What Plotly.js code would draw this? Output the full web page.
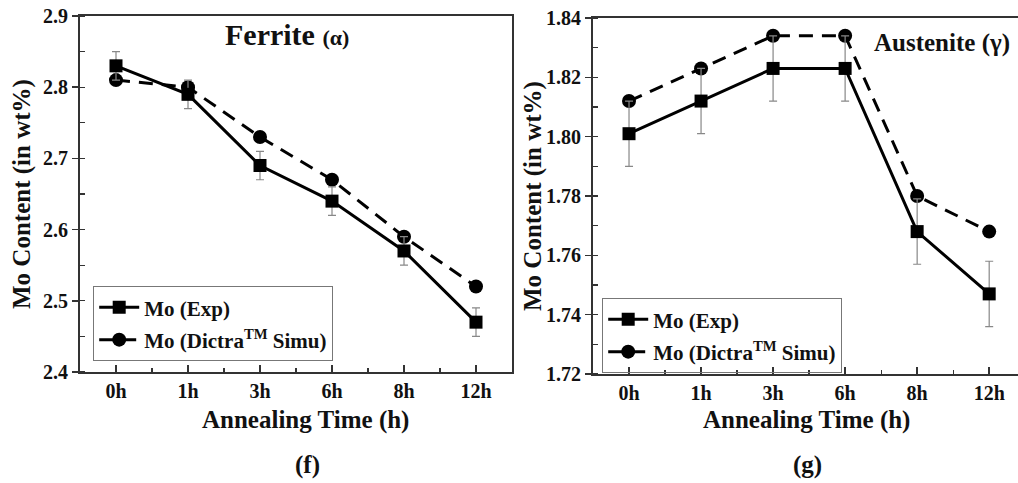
<!DOCTYPE html>
<html>
<head>
<meta charset="utf-8">
<script src="https://cdn.plot.ly/plotly-3.0.1.min.js"></script>
<style>html,body{margin:0;padding:0;background:#fff;}#chart{width:1018px;height:483px;}</style>
</head>
<body>
<div id="chart"></div>
<script>
// ---- data ----
const categories = ['0h', '1h', '3h', '6h', '8h', '12h'];
const ferriteExp = [2.83, 2.79, 2.69, 2.64, 2.57, 2.47];
const ferriteExpErr = [0.02, 0.02, 0.02, 0.02, 0.02, 0.02];
const ferriteSim = [2.81, 2.80, 2.73, 2.67, 2.59, 2.52];
const austeniteExp = [1.801, 1.812, 1.823, 1.823, 1.768, 1.747];
const austeniteExpErr = [0.011, 0.011, 0.011, 0.011, 0.011, 0.011];
const austeniteSim = [1.812, 1.823, 1.834, 1.834, 1.780, 1.768];
const seriesNames = ['Mo (Exp)', 'Mo (Dictra<sup>TM</sup> Simu)'];

const W = 1018, H = 483;
const px = x => x / W;
const py = y => 1 - y / H;
const xIdx = categories.map((c, i) => i);
const FONT = 'Liberation Serif, Times New Roman, serif';

function expTrace(y, err, xa, ya, leg) {
  return {
    x: xIdx, y: y, xaxis: xa, yaxis: ya, legend: leg, legendgroup: leg + 'a', legendrank: 1,
    name: seriesNames[0], type: 'scatter', mode: 'lines+markers',
    line: {color: '#000', width: 3},
    marker: {symbol: 'square', size: 13, color: '#000'},
    error_y: {type: 'data', array: err, visible: true, color: '#888', thickness: 1.2, width: 4}
  };
}
function simTrace(y, xa, ya, leg) {
  return {
    x: xIdx, y: y, xaxis: xa, yaxis: ya, legend: leg, legendgroup: leg + 'b', legendrank: 2,
    name: seriesNames[1], type: 'scatter', mode: 'lines+markers',
    line: {color: '#000', width: 3, dash: '14px,9px'},
    marker: {symbol: 'circle', size: 14, color: '#000'}
  };
}

const data = [
  simTrace(ferriteSim, 'x', 'y', 'legend'),
  expTrace(ferriteExp, ferriteExpErr, 'x', 'y', 'legend'),
  simTrace(austeniteSim, 'x2', 'y2', 'legend2'),
  expTrace(austeniteExp, austeniteExpErr, 'x2', 'y2', 'legend2')
];

const tickFont = {family: FONT, size: 20, color: '#111', weight: 'bold'};
function xAxis(domain, range, anchor) {
  return {
    domain: domain, range: range, anchor: anchor, type: 'linear',
    tickvals: xIdx, ticktext: categories, ticks: 'inside', ticklen: 7, tickwidth: 1.5, tickcolor: '#333',
    minor: {dtick: 0.5, tick0: 0, ticks: 'inside', ticklen: 4, tickwidth: 1.2, tickcolor: '#333'},
    showline: true, linecolor: '#333', linewidth: 2, mirror: true,
    showgrid: false, zeroline: false, tickfont: tickFont, fixedrange: true
  };
}
function yAxis(domain, range, dtick, fmt, anchor) {
  return {
    domain: domain, range: range, anchor: anchor, dtick: dtick, tick0: range[0], tickformat: fmt,
    ticks: 'outside', ticklen: 6, tickwidth: 1.5, tickcolor: '#333',
    minor: {dtick: dtick / 2, ticks: 'inside', ticklen: 5, tickwidth: 1.2, tickcolor: '#333'},
    showline: true, linecolor: '#333', linewidth: 2, mirror: true,
    showgrid: false, zeroline: false, tickfont: tickFont, fixedrange: true
  };
}

const legendBase = {
  font: {family: FONT, size: 21, color: '#111', weight: 'bold'},
  bgcolor: 'rgba(255,255,255,0)', bordercolor: '#777', borderwidth: 1.2,
  xanchor: 'left', yanchor: 'top', tracegroupgap: 2, itemwidth: 40
};

const titleFont = {family: FONT, size: 25, color: '#111', weight: 'bold'};
function ann(x, y, text, font, extra) {
  return Object.assign({xref: 'paper', yref: 'paper', x: px(x), y: py(y), text: text,
    showarrow: false, xanchor: 'center', yanchor: 'middle', font: font}, extra || {});
}
const layout = {
  width: W, height: H, margin: {l: 0, r: 0, t: 0, b: 0},
  paper_bgcolor: '#fff', plot_bgcolor: '#fff', showlegend: true,
  font: {family: FONT, weight: 'bold'},
  xaxis: xAxis([px(80), px(512)], [-0.5, 5.5], 'y'),
  yaxis: yAxis([py(372), py(16)], [2.4, 2.9], 0.1, '.1f', 'x'),
  xaxis2: xAxis([px(593), 1], [-0.5, 5.4], 'y2'),
  yaxis2: yAxis([py(374), py(18)], [1.72, 1.84], 0.02, '.2f', 'x2'),
  legend: Object.assign({}, legendBase, {x: px(93), y: py(286)}),
  legend2: Object.assign({}, legendBase, {x: px(602), y: py(298)}),
  annotations: [
    ann(287, 35, 'Ferrite <span style="font-size:22px">(α)</span>', {family: FONT, size: 30, color: '#111', weight: 'bold'}),
    ann(942, 43, 'Austenite (γ)', {family: FONT, size: 25, color: '#111', weight: 'bold'}),
    ann(305, 420, 'Annealing Time (h)', titleFont),
    ann(806, 420, 'Annealing Time (h)', titleFont),
    ann(22, 194, 'Mo Content (in wt%)', titleFont, {textangle: -90}),
    ann(533, 196, 'Mo Content (in wt%)', titleFont, {textangle: -90}),
    ann(307, 465, '(f)', titleFont),
    ann(807, 465, '(g)', titleFont)
  ]
};

Plotly.newPlot('chart', data, layout, {displayModeBar: false, staticPlot: true});
</script>
</body>
</html>
